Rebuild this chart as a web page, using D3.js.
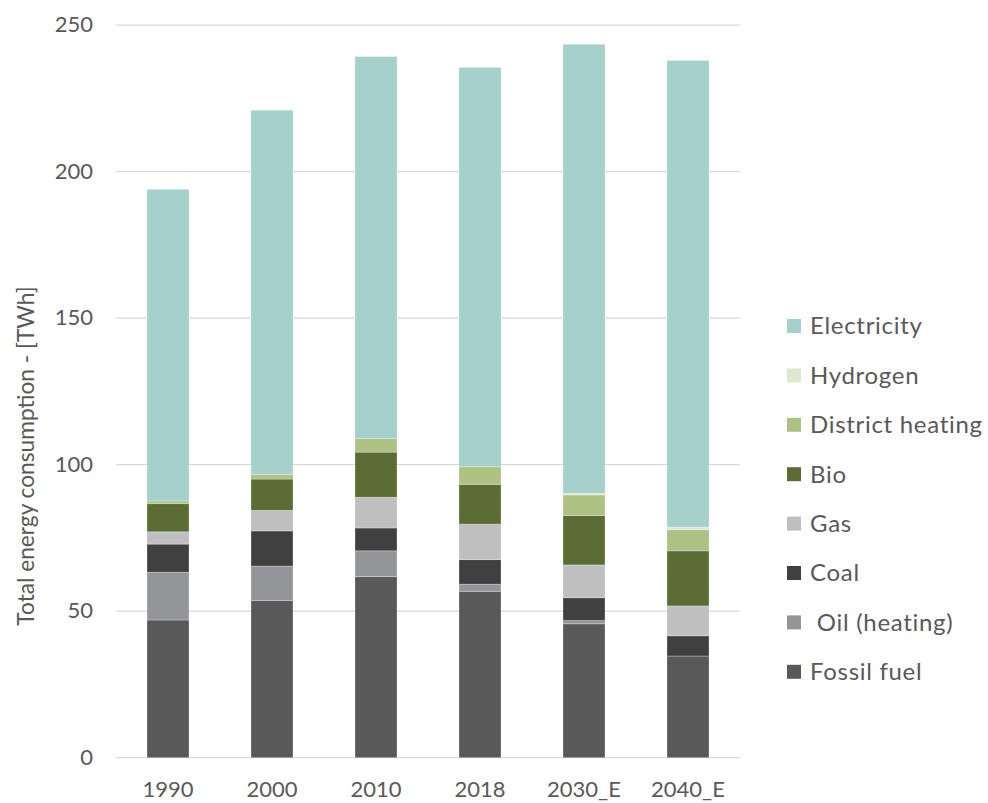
<!DOCTYPE html>
<html><head><meta charset="utf-8">
<script src="https://cdn.jsdelivr.net/npm/d3@7"></script>
<style>
body{margin:0;background:#fff;}
svg text{font-family:Lato,"Open Sans",sans-serif;fill:#595959;}
</style></head>
<body><svg id="c" width="988" height="803"></svg>
<script>
const categories = ["1990","2000","2010","2018","2030_E","2040_E"];
const seriesNames = ["Fossil fuel"," Oil (heating)","Coal","Gas","Bio","District heating","Hydrogen","Electricity"];
const fossil      = [47.0, 53.7, 61.8, 56.8, 45.7, 34.7];
const oil         = [16.3, 11.7,  8.8,  2.4,  1.1,  0.0];
const coal        = [ 9.6, 12.0,  7.8,  8.4,  7.8,  6.9];
const gas         = [ 4.2,  7.0, 10.5, 12.1, 11.2, 10.2];
const bio         = [ 9.6, 10.7, 15.4, 13.6, 16.9, 18.8];
const district    = [ 0.9,  1.6,  4.6,  6.0,  7.0,  7.2];
const hydrogen    = [ 0.0,  0.0,  0.0,  0.0,  0.5,  0.9];
const electricity = [106.4,124.3,130.4,136.3,153.3,159.3];
const yTicks = [0,50,100,150,200,250];
const colors = ["#595959","#939598","#404040","#bfbfbf","#5b6c35","#adc182","#dde8d3","#a5d0cb"];

const seriesValues = [fossil, oil, coal, gas, bio, district, hydrogen, electricity];
const rows = categories.map((c,i)=>{
  const r = {cat:c};
  seriesNames.forEach((s,k)=> r[s] = seriesValues[k][i]);
  return r;
});

const svg = d3.select("#c");
const m = {left:116, right:740, top:25.2, bottom:757.7};
const x = d3.scaleBand().domain(categories).range([m.left,m.right]).paddingInner(0.596).paddingOuter(0.298);
const y = d3.scaleLinear().domain([0,250]).range([m.bottom,m.top]);

// gridlines
svg.append("g").selectAll("line").data(yTicks).join("line")
  .attr("x1",m.left).attr("x2",m.right)
  .attr("y1",d=>y(d)).attr("y2",d=>y(d))
  .attr("stroke","#d9d9d9").attr("stroke-width",1.2);

// y tick labels
const yAxis = d3.axisLeft(y).tickValues(yTicks).tickSize(0).tickPadding(0);
const gy = svg.append("g").attr("transform",`translate(93,-1)`).call(yAxis);
gy.select(".domain").remove();
gy.selectAll("text").style("font-size","22px").style("fill","#595959").attr("dy","0.35em")
  .style("font-family","Lato, 'Open Sans', sans-serif");

// stacked bars
const stack = d3.stack().keys(seriesNames);
const layers = stack(rows);
svg.append("g").selectAll("g").data(layers).join("g")
  .attr("fill",(d,i)=>colors[i])
  .selectAll("rect").data(d=>d).join("rect")
  .attr("x",d=>x(d.data.cat))
  .attr("width",x.bandwidth())
  .attr("y",d=>y(d[1]))
  .attr("height",d=>Math.max(0,y(d[0])-y(d[1])))
  .attr("stroke","#ffffff").attr("stroke-opacity",0.35).attr("stroke-width",0.8);

// x axis labels
const xAxis = d3.axisBottom(x).tickSize(0).tickPadding(0);
const gx = svg.append("g").attr("transform",`translate(0,${m.bottom})`).call(xAxis);
gx.select(".domain").remove();
gx.selectAll("text").style("font-size","22px").style("fill","#595959").attr("y",32).attr("dy","0.35em")
  .style("font-family","Lato, 'Open Sans', sans-serif");

// y axis title
svg.append("text")
  .attr("transform","translate(26,456) rotate(-90)")
  .attr("text-anchor","middle")
  .attr("dy","0.35em")
  .style("font-size","22.7px")
  .text("Total energy consumption - [TWh]");

// legend (reverse order)
const legendItems = seriesNames.map((s,i)=>({name:s,color:colors[i]})).reverse();
const lg = svg.append("g").selectAll("g").data(legendItems).join("g")
  .attr("transform",(d,i)=>`translate(787,${326 + i*49.4})`);
lg.append("rect").attr("x",0).attr("y",-7).attr("width",14).attr("height",14).attr("fill",d=>d.color);
lg.append("text").attr("x",23).attr("dy","0.35em").style("font-size","24px").style("letter-spacing","0.7px")
  .attr("xml:space","preserve").text(d=>d.name);
</script></body></html>
